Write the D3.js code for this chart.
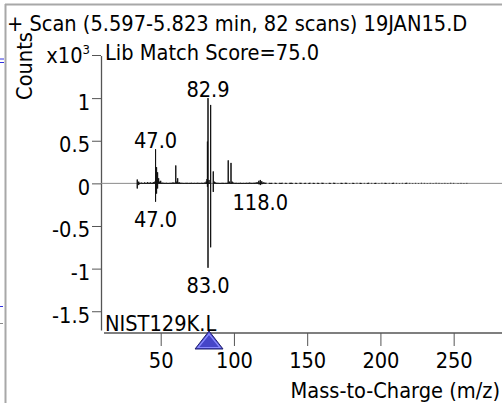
<!DOCTYPE html>
<html><head><meta charset="utf-8">
<script src="https://cdn.jsdelivr.net/npm/d3@7"></script>
<style>
html,body{margin:0;padding:0;background:#fff;}
svg{display:block;}
text{font-family:"DejaVu Sans Condensed","DejaVu Sans",sans-serif;font-stretch:condensed;fill:#000;}
</style></head><body>
<svg id="c" width="502" height="403"></svg>
<script>
const titleText = "+ Scan (5.597-5.823 min, 82 scans) 19JAN15.D";
const scoreText = "Lib Match Score=75.0";
const libText = "NIST129K.L";
const xLabelText = "Mass-to-Charge (m/z)";
const yLabelText = "Counts";
const xTicks = [50, 100, 150, 200, 250];
const yTicks = [1, 0.5, 0, -0.5, -1, -1.5];
const yTickLabels = ["1", "0.5", "0", "-0.5", "-1", "-1.5"];

// sample (upper) spectrum, x10^3 counts
const sampleMz    = [34.0, 35.0, 46.5, 47.2, 47.9, 48.6, 49.3, 60.3, 61.6, 62.5, 81.6, 81.9, 82.3, 83.0, 84.1, 85.9, 86.6, 96.1, 98.0, 98.8, 116.3, 117.0, 118.0, 119.0, 120.0];
const sampleAbund = [0.045, 0.02, 0.40, 0.19, 0.13, 0.06, 0.02, 0.21, 0.06, 0.012, 0.05, 0.49, 1.0, 0.04, 0.92, 0.14, 0.02, 0.27, 0.24, 0.02, 0.012, 0.03, 0.04, 0.025, 0.012];
// small baseline signals of the sample scan
const noiseMz = [36,37,38,39,40,41,42,43,44,45,46,50,51,52,53,54,55,56,57,58,59,61,63,64,65,66,67,68,69,70,71,72,73,74,75,76,77,78,79,80,81,87.5,88.5,89.5,90.5,91.5,92.5,93.5,94.5,95.5,97,99.6,100.5,101.5,102.5,103.5,104.5,105.5,106.5,107.5,108.5,109.5,110.5,111.5,112.5,113.5,114.5,115.5,121,122,124,125,126,128,129,131,132,133,135,136,138,139,140,142,143,145,146,148,149,151,152,154,155,157,158,160,161,163,165,166,168,169,171,173,174,176,177,179,181,182,184,186,187,189,191,192,194,196,197,199,201,203,204,206,208,209,211,213,215,217,218,220,222,224,226,228,230,232,234,236,238,240,242,244,246,248,250,253,255,257,259,261];
const noiseAbund = [0.006,0.008,0.004,0.01,0.006,0.012,0.008,0.01,0.006,0.014,0.02,0.03,0.008,0.006,0.005,0.006,0.004,0.005,0.006,0.008,0.01,0.02,0.008,0.006,0.005,0.004,0.005,0.006,0.004,0.005,0.006,0.004,0.005,0.004,0.006,0.005,0.004,0.006,0.005,0.008,0.02,0.01,0.006,0.005,0.004,0.005,0.006,0.004,0.005,0.006,0.02,0.008,0.005,0.006,0.004,0.005,0.006,0.004,0.005,0.004,0.006,0.005,0.008,0.006,0.005,0.006,0.008,0.01,0.008,0.006,0.005,0.004,0.005,0.006,0.004,0.005,0.004,0.006,0.005,0.004,0.005,0.006,0.004,0.005,0.004,0.006,0.005,0.004,0.005,0.004,0.006,0.005,0.004,0.005,0.004,0.006,0.005,0.004,0.005,0.004,0.006,0.005,0.004,0.005,0.004,0.006,0.005,0.004,0.005,0.004,0.006,0.005,0.004,0.005,0.004,0.006,0.005,0.004,0.005,0.004,0.006,0.005,0.004,0.005,0.004,0.006,0.005,0.004,0.005,0.004,0.006,0.005,0.004,0.005,0.004,0.006,0.005,0.004,0.005,0.004,0.006,0.005,0.004,0.005,0.004,0.006,0.005,0.004,0.005,0.004,0.005];

// library (lower, mirrored) spectrum
const libMz    = [34.0, 35.0, 46.5, 47.2, 47.9, 81.9, 82.3, 84.1, 85.9, 117.0, 118.0, 119.0];
const libAbund = [-0.06, -0.02, -0.215, -0.12, -0.06, -0.04, -0.99, -0.75, -0.10, -0.01, -0.02, -0.01];

// peak annotations
const topLabelText = ["82.9", "47.0"];
const topLabelMz   = [82.3, 46.5];
const topLabelAb   = [1.0, 0.40];
const botLabelText = ["47.0", "118.0", "83.0"];
const botLabelMz   = [46.5, 118.0, 82.3];
const botLabelAb   = [-0.215, -0.02, -0.99];
const markerMz = 83.0;

const svg = d3.select("#c");
const FS = 21.6;
const x = d3.scaleLinear().domain([9.25, 283]).range([101, 502]);
const y = d3.scaleLinear().domain([-1.72, 1.5]).range([330, 55.5]);

// frame remnants
svg.append("line").attr("x1", 5).attr("x2", 502).attr("y1", 4.5).attr("y2", 4.5).attr("stroke", "#a8a8a8").attr("stroke-width", 2);
svg.append("line").attr("x1", 5.5).attr("x2", 5.5).attr("y1", 4).attr("y2", 403).attr("stroke", "#a8a8a8").attr("stroke-width", 2);
svg.append("line").attr("x1", 0).attr("x2", 4).attr("y1", 59).attr("y2", 59).attr("stroke", "#3030e0");
svg.append("line").attr("x1", 0).attr("x2", 4).attr("y1", 62.5).attr("y2", 62.5).attr("stroke", "#3030e0");
svg.append("line").attr("x1", 0).attr("x2", 3).attr("y1", 306.5).attr("y2", 306.5).attr("stroke", "#3030e0");
svg.append("line").attr("x1", 0).attr("x2", 3).attr("y1", 323.5).attr("y2", 323.5).attr("stroke", "#888");

// title
svg.append("text").attr("x", 7).attr("y", 31).attr("font-size", FS).text(titleText);
svg.append("text").attr("x", 105).attr("y", 59.5).attr("font-size", FS).text(scoreText);
svg.append("text").attr("transform", "translate(32,66) rotate(-90)").attr("text-anchor", "middle").attr("font-size", FS).text(yLabelText);

// y axis
const yAxis = d3.axisLeft(y).tickValues(yTicks).tickSize(9).tickSizeOuter(0).tickFormat((d, i) => yTickLabels[i]);
const gy = svg.append("g").attr("transform", "translate(101,0)").call(yAxis);
gy.select(".domain").attr("stroke", "#555").attr("stroke-width", 1.3);
gy.selectAll(".tick line").attr("stroke", "#555");
gy.selectAll(".tick text").attr("font-size", FS).attr("font-family", null).attr("x", -11).attr("dy", 11);
// x10^3 multiplier tick
const mult = svg.append("g").attr("transform", `translate(101,${y(1.5)})`);
mult.append("line").attr("x1", -9).attr("x2", 0).attr("stroke", "#555");
const mt = mult.append("text").attr("x", -11).attr("y", 7.5).attr("text-anchor", "end").attr("font-size", FS);
mt.append("tspan").text("x10");
mt.append("tspan").attr("font-size", 13).attr("dy", -9).text("3");

// x axis
const xAxis = d3.axisBottom(x).tickValues(xTicks).tickSize(13).tickSizeOuter(0);
const gx = svg.append("g").attr("transform", "translate(0,333)").call(xAxis);
gx.select(".domain").remove();
gx.append("line").attr("x1", x.range()[0] + 3).attr("x2", x.range()[1]).attr("stroke", "#555").attr("stroke-width", 1.3);
gx.selectAll(".tick line").attr("stroke", "#555");
gx.selectAll(".tick text").attr("font-size", FS).attr("font-family", null).attr("y", 35).attr("dy", 0);
svg.append("text").attr("x", 500).attr("y", 398).attr("text-anchor", "end").attr("font-size", FS).text(xLabelText);

// zero line
svg.append("line").attr("x1", x.range()[0]).attr("x2", x.range()[1]).attr("y1", y(0)).attr("y2", y(0)).attr("stroke", "#8a8a8a");

function spectrumPath(mz, ab, gap) {
  const idx = d3.range(mz.length).sort((a, b) => mz[a] - mz[b]);
  let d = "", prev = null;
  const y0 = y(0);
  idx.forEach(i => {
    const xm = x(mz[i]);
    d += (prev !== null && mz[i] - prev <= gap) ? `L${xm},${y0}` : `M${xm},${y0}`;
    d += `L${xm},${y(ab[i])}L${xm},${y0}`;
    prev = mz[i];
  });
  return d;
}
const allMz = sampleMz.concat(noiseMz);
const allAb = sampleAbund.concat(noiseAbund);
svg.append("path").attr("d", spectrumPath(allMz, allAb, 1.6)).attr("fill", "none").attr("stroke", "#111").attr("stroke-width", 1);
svg.append("path").attr("d", spectrumPath(libMz, libAbund, 1.0)).attr("fill", "none").attr("stroke", "#111").attr("stroke-width", 1);

// peak labels
topLabelText.forEach((t, i) => {
  svg.append("text").attr("x", x(topLabelMz[i])).attr("y", y(topLabelAb[i]) - 1).attr("text-anchor", "middle").attr("font-size", FS).text(t);
});
botLabelText.forEach((t, i) => {
  svg.append("text").attr("x", x(botLabelMz[i])).attr("y", y(botLabelAb[i]) + 25).attr("text-anchor", "middle").attr("font-size", FS).text(t);
});
svg.append("text").attr("x", 105).attr("y", 330.5).attr("font-size", FS).text(libText);

// match marker
const cx = x(markerMz);
const tri = [[cx, 331], [cx - 14, 349], [cx + 14, 349]];
svg.append("polygon").attr("points", tri.map(p => p.join(",")).join(" ")).attr("fill", "#4545c8").attr("stroke", "#22226e").attr("stroke-width", 1);
const tri2 = [[cx, 334], [cx - 11, 347.5], [cx + 11, 347.5]];
svg.append("polygon").attr("points", tri2.map(p => p.join(",")).join(" ")).attr("fill", "none").attr("stroke", "#8a8aff").attr("stroke-width", 1.2);
</script>
</body></html>
